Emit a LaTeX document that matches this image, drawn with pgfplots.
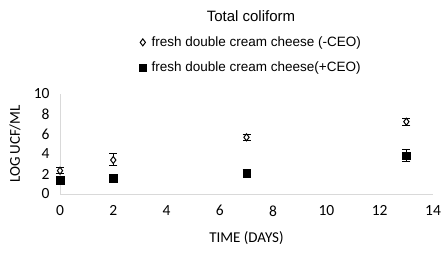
\documentclass[border=0pt]{standalone}
\usepackage{pgfplots}
\pgfplotsset{compat=1.18}
\usepackage{fontspec}
\setmainfont{Carlito}
\newfontfamily\arial{Liberation Sans}
\definecolor{axgray}{HTML}{D9D9D9}
\begin{document}
\begin{tikzpicture}[x=1pt,y=1pt]
\path (0,0) rectangle (447,254);
\begin{axis}[
  at={(60pt,60pt)}, anchor=origin,
  scale only axis, width=373pt, height=100pt,
  xmin=0, xmax=14, ymin=0, ymax=10,
  xtick={0,2,...,14}, ytick={0,2,...,10},
  axis lines=left, axis line style={axgray, -},
  major tick length=0pt,
  tick label style={font=\fontsize{15.5}{16}\selectfont, black},
  /pgf/number format/assume math mode=true,
  xticklabel style={yshift=-8pt},
  yticklabel style={xshift=-7pt},
  xlabel={TIME (DAYS)}, ylabel={LOG UCF/ML},
  label style={font=\fontsize{15}{16}\selectfont},
  xlabel style={at={(axis description cs:0.5,0)}, anchor=north, yshift=-34pt},
  ylabel style={at={(axis description cs:0,0.5)}, anchor=south, yshift=36pt},
  clip=false,
  legend style={at={(0.512,1.39)}, anchor=center, draw=none, fill=none,
    font=\arial\fontsize{13.5}{15}\selectfont, row sep=10pt, column sep=3pt, inner sep=0pt},
  legend cell align=left,
]
\addplot+[only marks, black, mark=diamond*, mark size=3.5pt,
  mark options={fill=white, draw=black, line width=1pt},
  error bars/.cd, y dir=both, y explicit,
  error bar style={black, line width=1pt},
  error mark options={rotate=90, mark size=4pt, black, line width=1pt}]
  coordinates {
  (0,2.33) +- (0,0.3)
  (2,3.4) +- (0,0.6)
  (7,5.67) +- (0,0.3)
  (13,7.23) +- (0,0.35)
  };
\addlegendentry{fresh double cream cheese (-CEO)}
\addplot+[only marks, black, mark=square*, mark size=3.8pt,
  mark options={fill=black, draw=black},
  error bars/.cd, y dir=both, y explicit,
  error bar style={black, line width=1pt},
  error mark options={rotate=90, mark size=4pt, black, line width=1pt}]
  coordinates {
  (0,1.4) +- (0,0.35)
  (2,1.57) +- (0,0.15)
  (7,2.07) +- (0,0.4)
  (13,3.83) +- (0,0.6)
  };
\addlegendentry{fresh double cream cheese(+CEO)}
\node[font=\arial\fontsize{15}{17}\selectfont] at (axis description cs:0.512,1.78) {Total coliform};
\end{axis}
\end{tikzpicture}
\end{document}
